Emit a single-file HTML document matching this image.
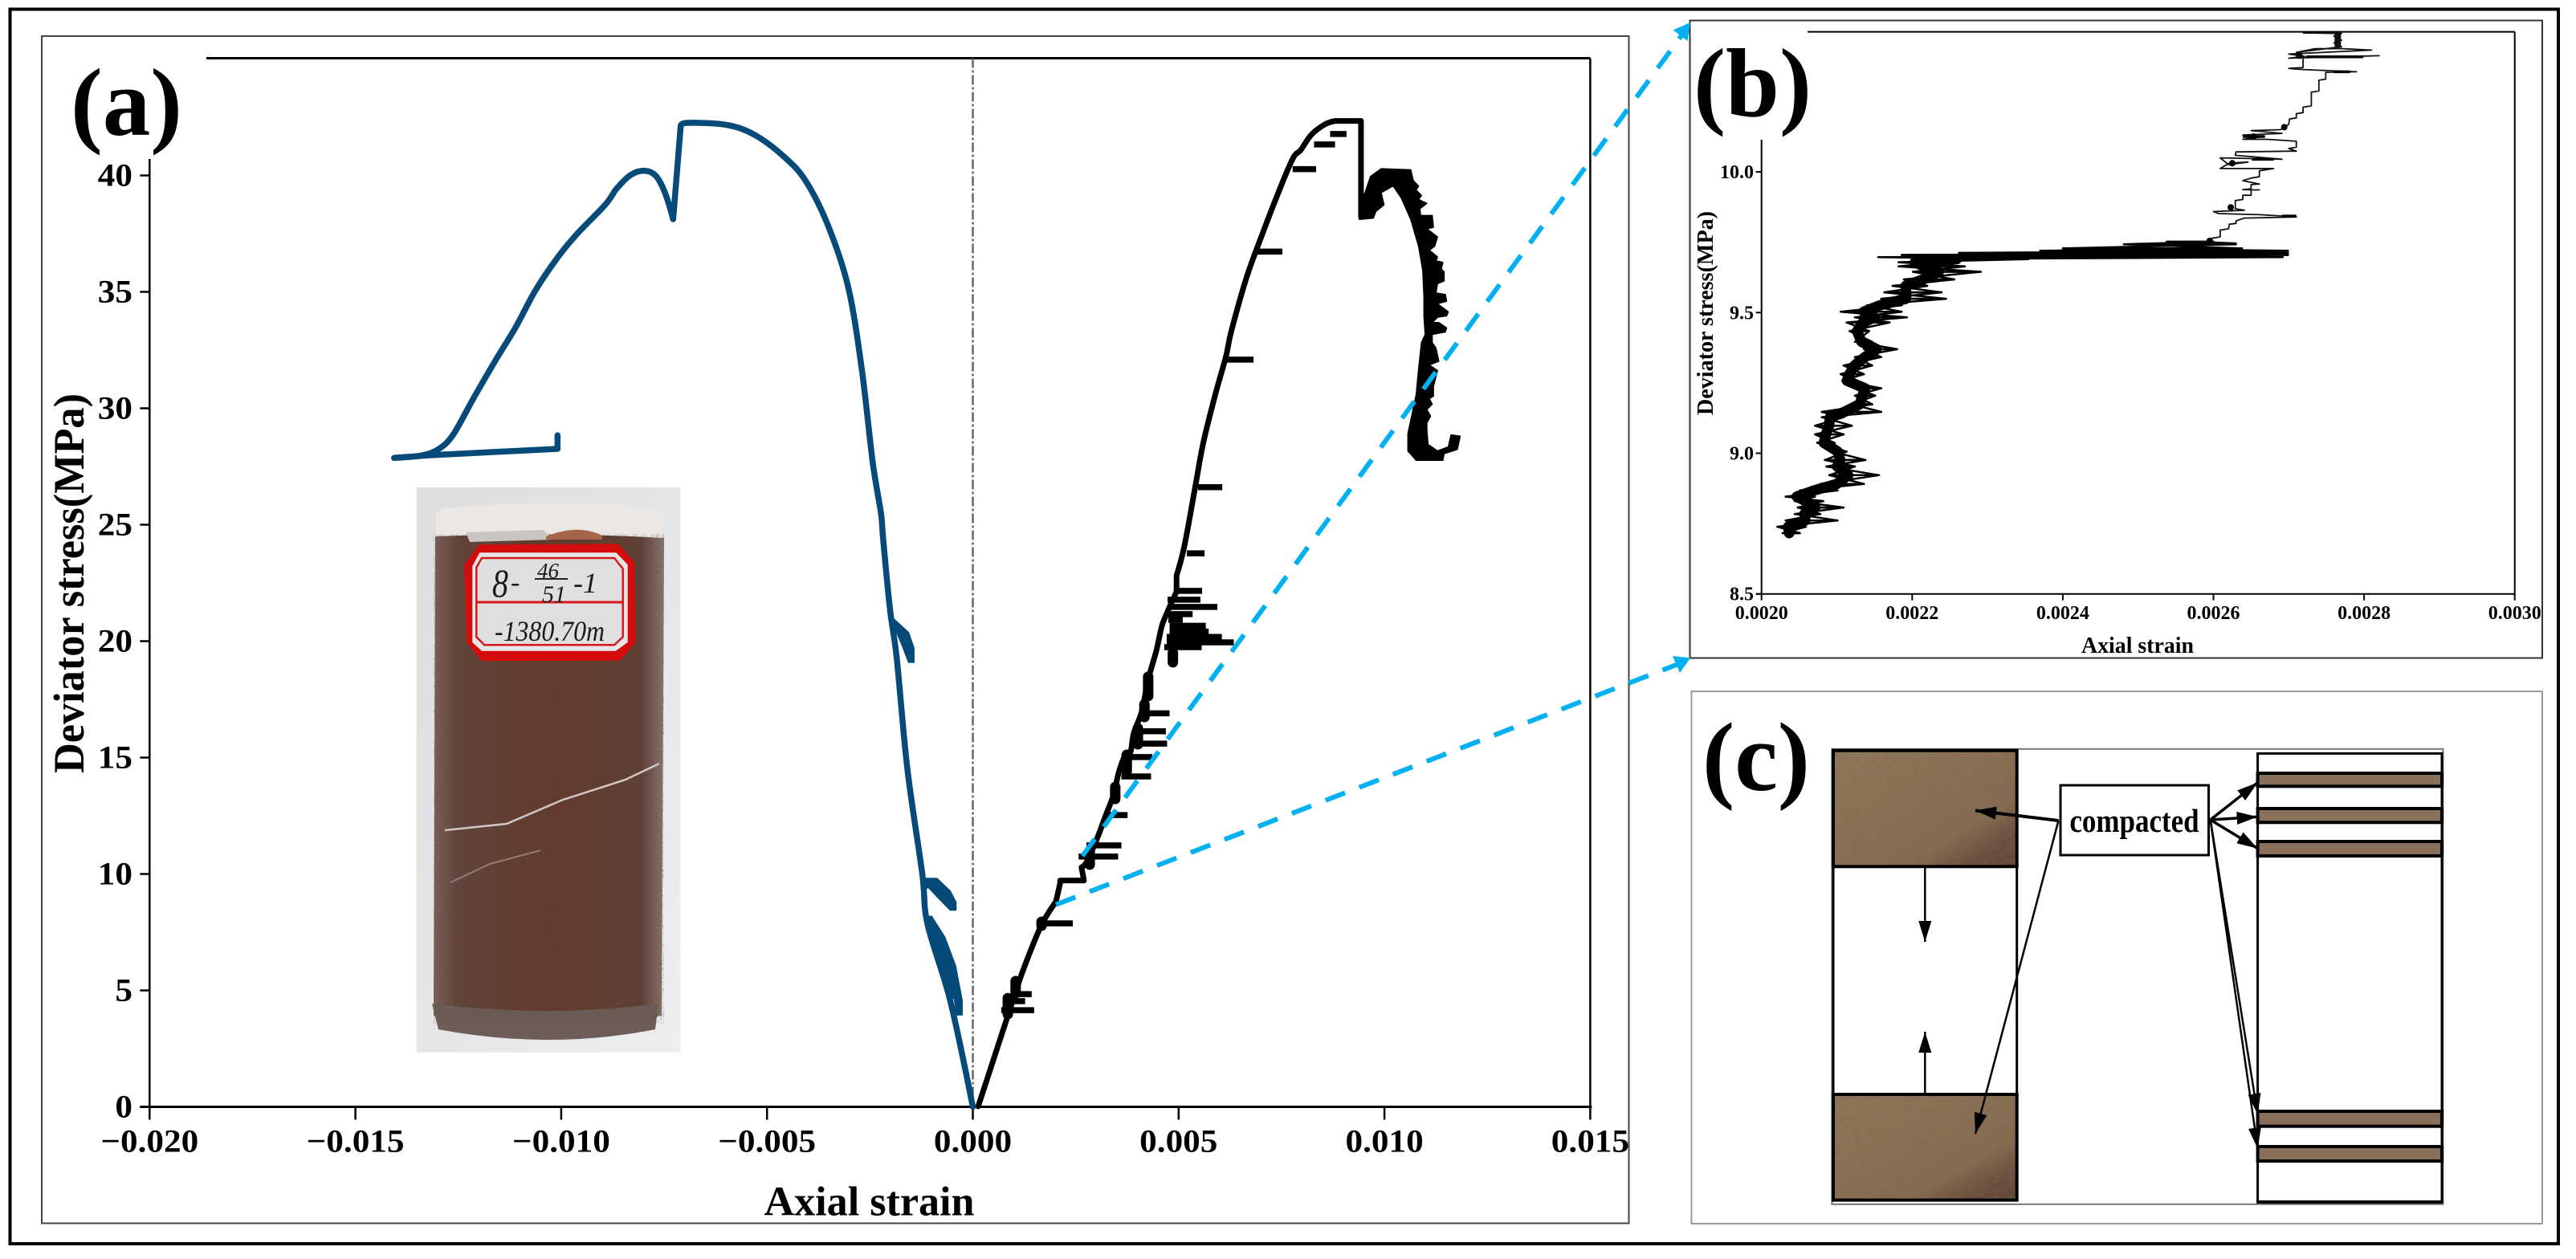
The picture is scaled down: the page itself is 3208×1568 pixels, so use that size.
<!DOCTYPE html>
<html lang="en">
<head>
<meta charset="utf-8">
<title>Deviator stress vs axial strain</title>
<style>
html,body{margin:0;padding:0;background:#fff;width:3208px;height:1568px;overflow:hidden}
svg{display:block}
text{font-family:"Liberation Serif","Noto Serif CJK SC",serif;font-weight:bold;fill:#000}
.hand{font-weight:normal;font-style:italic;fill:#1a1a1a}
</style>
</head>
<body>
<svg id="fig" xmlns="http://www.w3.org/2000/svg" width="3208" height="1568" viewBox="0 0 3208 1568">
  <defs>
    <linearGradient id="rockGrad" x1="0" y1="0" x2="1" y2="1">
      <stop offset="0" stop-color="#917759"/>
      <stop offset="0.7" stop-color="#866b50"/>
      <stop offset="0.85" stop-color="#6b5040"/>
      <stop offset="1" stop-color="#5f4536"/>
    </linearGradient>
    <linearGradient id="photoBg" x1="0" y1="0" x2="1" y2="1">
      <stop offset="0" stop-color="#dcdddf"/>
      <stop offset="1" stop-color="#eceeef"/>
    </linearGradient>
    <linearGradient id="sandGrad" x1="0" y1="0" x2="1" y2="0">
      <stop offset="0" stop-color="#7c625a"/>
      <stop offset="0.1" stop-color="#63433a"/>
      <stop offset="0.5" stop-color="#633a2c"/>
      <stop offset="0.9" stop-color="#5f3f35"/>
      <stop offset="1" stop-color="#8a7770"/>
    </linearGradient>
    <filter id="grain" x="0" y="0" width="100%" height="100%">
      <feTurbulence type="fractalNoise" baseFrequency="0.35" numOctaves="2" seed="4"/>
      <feColorMatrix type="matrix" values="0 0 0 0 0.1  0 0 0 0 0.07  0 0 0 0 0.05  1.6 0 0 0 -0.65"/>
    </filter>
    <filter id="rockGrain" x="0" y="0" width="100%" height="100%">
      <feTurbulence type="fractalNoise" baseFrequency="0.12 0.2" numOctaves="3" seed="9"/>
      <feColorMatrix type="matrix" values="0 0 0 0 0.2  0 0 0 0 0.14  0 0 0 0 0.09  2.2 0 0 0 -0.95"/>
    </filter>
    <marker id="headS" markerUnits="userSpaceOnUse" markerWidth="30" markerHeight="24" refX="26" refY="10" orient="auto">
      <path d="M0,2 L26,10 L0,18 Z" fill="#000"/>
    </marker>
  </defs>

  <rect x="0" y="0" width="3208" height="1568" fill="#fff"/>
  <rect x="12.5" y="11.5" width="3173.5" height="1537.5" fill="none" stroke="#000" stroke-width="4"/>
  <rect x="52" y="45" width="1976.5" height="1478.5" fill="#fff" stroke="#444" stroke-width="2"/>
  <rect x="2104.5" y="25.5" width="1061.5" height="794" fill="#fff" stroke="#333" stroke-width="2"/>
  <rect x="2106.5" y="861" width="1059.5" height="663" fill="#fff" stroke="#999" stroke-width="2"/>

  <!-- specimen photo -->
  <g id="specimen-photo">
    <rect x="518.7" y="607" width="328.7" height="703.6" fill="url(#photoBg)"/>
    <path d="M543,643 Q543,634 560,632 Q684,622 810,632 Q825,636 826,643 L826,680 L543,680 Z" fill="#ebe7e5"/>
    <path d="M542,668 Q684,662 827,670 L824,1265 Q684,1285 540,1265 Z" fill="url(#sandGrad)"/>
    <path d="M538,1250 Q684,1268 820,1250 L816,1282 Q684,1308 546,1282 Z" fill="#6d5c57"/>
    <path d="M542,668 Q684,662 827,670 L824,1265 Q684,1285 540,1265 Z" filter="url(#grain)" opacity="0.5"/>
    <path d="M580,663 L677,660 L690,672 L585,675 Z" fill="#c9c6c2"/>
    <path d="M680,668 Q720,652 750,667 L750,672 L680,672 Z" fill="#a5654a"/>
    <polyline points="554,1034 631,1026 701,996 779,971 821,951" fill="none" stroke="#cfc8c6" stroke-width="2.5"/>
    <polyline points="561,1099 610,1076 673,1059" fill="none" stroke="#927d76" stroke-width="2"/>
    <polygon points="596.7,678.3 770,677.3 790,700 791.7,800 771.7,822.7 600,823.3 581,800 578.3,703.3" fill="#d40c0c"/>
    <polygon points="597.3,688.3 767.3,688.3 781.7,703.3 781.7,800 766.7,810.7 600,810.7 588.3,800 588.3,705" fill="#e6e6e8"/>
    <polygon points="600,695 765,695 775.7,708.3 775.7,793.3 765,803.3 603.3,803.3 593.3,793.3 593.3,706.7" fill="#dfdfe1" stroke="#d81818" stroke-width="2.5"/>
    <line x1="593.3" y1="750" x2="775.7" y2="750" stroke="#d81818" stroke-width="3"/>
    <text class="hand" x="613" y="743" font-size="50" textLength="20" lengthAdjust="spacingAndGlyphs">8</text>
    <text class="hand" x="636" y="736" font-size="34">-</text>
    <text class="hand" x="669" y="720" font-size="27">46</text>
    <line x1="666" y1="721" x2="707" y2="721" stroke="#222" stroke-width="2"/>
    <text class="hand" x="675" y="750" font-size="30">51</text>
    <text class="hand" x="714" y="738" font-size="36">-1</text>
    <text class="hand" x="616" y="798" font-size="36" textLength="137" lengthAdjust="spacingAndGlyphs">-1380.70m</text>
  </g>

  <g id="chartA"></g>
  <g id="chartB"></g>

  <!-- panel c schematic -->
  <g id="diagram-c">
    <rect x="2281.4" y="932.8" width="761" height="567" fill="#fff" stroke="#777" stroke-width="2"/>
    <rect x="2283" y="934.7" width="228.7" height="560" fill="#fff" stroke="#000" stroke-width="3"/>
    <rect x="2283" y="934.7" width="228.7" height="144.5" fill="url(#rockGrad)" stroke="#000" stroke-width="4"/>
    <rect x="2285" y="937" width="225" height="140" filter="url(#rockGrain)" opacity="0.5"/>
    <rect x="2283" y="1363" width="228.7" height="131.6" fill="url(#rockGrad)" stroke="#000" stroke-width="4"/>
    <rect x="2285" y="1365" width="225" height="128" filter="url(#rockGrain)" opacity="0.5"/>
    <rect x="2811.6" y="938.4" width="229.4" height="559" fill="#fff" stroke="#000" stroke-width="3"/>
    <rect x="2811.6" y="963" width="229.4" height="16.3" fill="#88705a" stroke="#000" stroke-width="4"/>
    <rect x="2811.6" y="1007" width="229.4" height="17.3" fill="#88705a" stroke="#000" stroke-width="4"/>
    <rect x="2811.6" y="1048" width="229.4" height="18" fill="#88705a" stroke="#000" stroke-width="4"/>
    <rect x="2811.6" y="1384" width="229.4" height="18.7" fill="#88705a" stroke="#000" stroke-width="4"/>
    <rect x="2811.6" y="1428" width="229.4" height="18" fill="#88705a" stroke="#000" stroke-width="4"/>
    <rect x="2811.6" y="1495" width="229.4" height="4" fill="#000"/>
    <line x1="2397.3" y1="1081" x2="2397.3" y2="1173" stroke="#000" stroke-width="2.5" marker-end="url(#headS)"/>
    <line x1="2397.3" y1="1362" x2="2397.3" y2="1285" stroke="#000" stroke-width="2.5" marker-end="url(#headS)"/>
    <rect x="2566" y="978" width="184.5" height="87" fill="#fff" stroke="#000" stroke-width="3"/>
    <text font-size="35" text-anchor="middle" transform="translate(2658,1036) scale(1,1.18)">compacted</text>
    <line x1="2563.5" y1="1022" x2="2460" y2="1009.5" stroke="#000" stroke-width="4" marker-end="url(#headS)"/>
    <line x1="2563.5" y1="1022" x2="2460" y2="1412" stroke="#000" stroke-width="2.5" marker-end="url(#headS)"/>
    <line x1="2752.7" y1="1021" x2="2811.6" y2="974.6" stroke="#000" stroke-width="3.5" marker-end="url(#headS)"/>
    <line x1="2752.7" y1="1021" x2="2811.6" y2="1017.3" stroke="#000" stroke-width="3.5" marker-end="url(#headS)"/>
    <line x1="2752.7" y1="1021" x2="2811.6" y2="1056.8" stroke="#000" stroke-width="3.5" marker-end="url(#headS)"/>
    <line x1="2752.7" y1="1021" x2="2811.6" y2="1388" stroke="#000" stroke-width="2.5" marker-end="url(#headS)"/>
    <line x1="2752.7" y1="1021" x2="2811.6" y2="1430.5" stroke="#000" stroke-width="2.5" marker-end="url(#headS)"/>
  </g>

  <!-- zoom connectors -->
  <line x1="1348" y1="1066" x2="2095" y2="43" stroke="#00b0f0" stroke-width="6" stroke-dasharray="26 19"/>
  <polygon points="2083.6,37.5 2105,28 2101.6,51" fill="#00b0f0"/>
  <line x1="1315" y1="1126.7" x2="2090" y2="827" stroke="#00b0f0" stroke-width="6" stroke-dasharray="26 19"/>
  <polygon points="2083,817 2105,819.5 2092,838" fill="#00b0f0"/>

  <text x="88" y="168" font-size="120" textLength="139" lengthAdjust="spacingAndGlyphs">(a)</text>
  <text x="2109" y="144.5" font-size="122" textLength="147" lengthAdjust="spacingAndGlyphs">(b)</text>
  <text x="2120" y="984" font-size="122" textLength="134" lengthAdjust="spacingAndGlyphs">(c)</text>
</svg>

<script>
// ---- Panel (a) data ----
const xTicksA = [-0.020, -0.015, -0.010, -0.005, 0.000, 0.005, 0.010, 0.015];
const xTickLabelsA = ["\u22120.020", "\u22120.015", "\u22120.010", "\u22120.005", "0.000", "0.005", "0.010", "0.015"];
const yTicksA = [0, 5, 10, 15, 20, 25, 30, 35, 40];
const yTickLabelsA = ["0", "5", "10", "15", "20", "25", "30", "35", "40"];

const blueStrain = [0,-0.00055,-0.00110,-0.00123,-0.00159,-0.00185,-0.00201,-0.00218,-0.00223,-0.00243,-0.00270,-0.00303,-0.00352,-0.00407,-0.00461,-0.00530,-0.00598,-0.00694,-0.00710,-0.00728,-0.00748,-0.00770,-0.00797,-0.00831,-0.00865,-0.00893,-0.00961,-0.01009,-0.01063,-0.01111,-0.01160,-0.01214,-0.01262,-0.01296,-0.01337,-0.01406,-0.01324,-0.01009,-0.01009];
const blueStress = [0,4.57,7.84,10.02,14.51,19.29,21.33,24.40,25.47,27.66,31.71,35.22,37.86,39.79,40.84,41.74,42.17,42.26,42.09,38.12,39.26,39.98,40.20,40.02,39.44,38.74,37.50,36.47,35.05,33.47,32.05,30.40,28.88,28.27,27.98,27.87,27.98,28.26,28.84];
const blueCorners = [18,19,35,36,37];

const blueLoop1Strain = [-0.00198,-0.00156,-0.00143,-0.00143,-0.00156,-0.00172,-0.00182];
const blueLoop1Stress = [21.05,20.37,19.69,19.09,19.09,19.83,20.24];
const blueLoop2Strain = [-0.00126,-0.00087,-0.00055,-0.00041,-0.00041,-0.00055,-0.00081,-0.00107,-0.00114];
const blueLoop2Stress = [9.81,9.81,9.27,8.79,8.45,8.45,8.92,9.40,9.40];
const blueLoop3Strain = [-0.00114,-0.00114,-0.00100,-0.00068,-0.00042,-0.00026,-0.00026,-0.00039,-0.00045,-0.00052,-0.00055,-0.00084,-0.00104];
const blueLoop3Stress = [7.77,8.18,8.18,7.29,6.06,4.57,3.95,3.95,4.64,4.71,4.43,6.33,7.77];

const blackStrain = [0.00013,0.00087,0.00121,0.00166,0.00202,0.00212,0.00212,0.00270,0.00264,0.00277,0.00303,0.00322,0.00342,0.00354,0.00368,0.00383,0.00391,0.00410,0.00426,0.00446,0.00459,0.00472,0.00495,0.00495,0.00514,0.00541,0.00560,0.00591,0.00615,0.00628,0.00665,0.00703,0.00740,0.00777,0.00797,0.00822,0.00855,0.00881,0.00943,0.00943];
const blackStress = [0.02,4.02,5.81,7.78,8.81,9.60,9.72,9.72,10.29,10.53,11.57,12.48,13.40,14.33,15.02,15.23,16.05,16.96,18.34,19.60,20.64,21.22,22.13,22.82,24.09,26.69,28.53,30.71,32.22,33.31,35.62,37.47,39.16,40.71,41.10,41.74,42.19,42.34,42.34,38.22];
const blackCorners = [4,5,6,7,8,22,23,37,38];

const loopEnvelopeStrain = [0.00939,0.00939,0.00953,0.00966,0.00992,0.01064,0.01070,0.01083,0.01077,0.01090,0.01083,0.01103,0.01086,0.01088,0.01116,0.01119,0.01103,0.01129,0.01122,0.01109,0.01129,0.01125,0.01142,0.01138,0.01145,0.01145,0.01129,0.01125,0.01148,0.01151,0.01129,0.01155,0.01151,0.01129,0.01116,0.01132,0.01151,0.01148,0.01116,0.01116,0.01125,0.01132,0.01109,0.01129,0.01119,0.01119,0.01109,0.01116,0.01103,0.01112,0.01103,0.01103,0.01106,0.01129,0.01155,0.01162,0.01184,0.01177,0.01145,0.01142,0.01077,0.01057,0.01057,0.01077,0.01083,0.01090,0.01099,0.01096,0.01096,0.01093,0.01083,0.01064,0.01041,0.01021,0.00992,0.00999,0.00979,0.00973];
const loopEnvelopeStress = [38.11,38.91,39.26,39.95,40.29,40.24,39.78,39.55,39.37,39.14,38.97,38.80,38.57,38.28,38.28,37.77,37.71,37.36,36.96,36.79,36.50,36.33,36.27,35.98,35.87,35.47,35.35,34.95,34.89,34.60,34.49,34.14,33.97,33.91,33.68,33.68,33.45,33.28,33.17,32.82,32.59,32.02,31.86,31.62,30.93,30.52,30.41,30.18,29.95,29.66,29.37,29.09,28.45,28.17,28.34,28.86,28.80,28.23,28.05,27.77,27.77,28.17,28.91,30.58,31.67,32.82,33.17,33.97,34.78,35.93,36.96,38.11,39.03,39.55,39.26,38.74,38.45,38.17];

const spikeStress = [41.78,41.33,40.27,36.73,32.09,26.61,23.77,22.16,21.78,21.47,21.16,20.92,20.66,20.41,20.18,19.95,19.74,16.90,16.13,15.60,15.02,14.19,12.53,11.23,10.75,7.88,4.84,4.54,4.15];
const spikeStart = [0.00868,0.00829,0.00777,0.00691,0.00615,0.00547,0.00520,0.00495,0.00473,0.00473,0.00473,0.00475,0.00478,0.00478,0.00471,0.00471,0.00465,0.00410,0.00395,0.00385,0.00361,0.00361,0.00319,0.00276,0.00257,0.00155,0.00106,0.00081,0.00069];
const spikeEnd = [0.00908,0.00880,0.00834,0.00752,0.00682,0.00606,0.00563,0.00557,0.00553,0.00594,0.00534,0.00510,0.00566,0.00573,0.00605,0.00634,0.00556,0.00478,0.00469,0.00472,0.00436,0.00433,0.00376,0.00361,0.00353,0.00243,0.00143,0.00127,0.00149];

const blobStrain = [0.00426,0.00417,0.00401,0.00374,0.00346,0.00284,0.00167,0.00104,0.00085,0.00486];
const blobStressHigh = [18.47,17.29,16.26,15.12,13.74,10.98,7.95,5.40,4.67,19.50];
const blobStressLow = [17.64,16.74,15.57,14.43,13.22,10.40,7.78,4.88,3.98,19.09];

// ---- Panel (b) data ----
const xTicksB = [0.0020, 0.0022, 0.0024, 0.0026, 0.0028, 0.0030];
const xTickLabelsB = ["0.0020", "0.0022", "0.0024", "0.0026", "0.0028", "0.0030"];
const yTicksB = [8.5, 9.0, 9.5, 10.0];
const yTickLabelsB = ["8.5", "9.0", "9.5", "10.0"];

const bRowStress = [8.716,8.739,8.761,8.784,8.807,8.830,8.846,8.868,8.891,8.922,8.953,8.976,9.006,9.037,9.067,9.098,9.128,9.147,9.174,9.205,9.231,9.258,9.281,9.312,9.342,9.370,9.396,9.434,9.465,9.483,9.503,9.526,9.549,9.572,9.595,9.618,9.645,9.664,9.679,9.690,9.697,9.705,9.712,9.720,9.728,9.743,9.752];
const bRowLeft = [0.002028,0.002021,0.002032,0.002044,0.002048,0.002044,0.002032,0.002051,0.002078,0.002090,0.002086,0.002084,0.002094,0.002074,0.002071,0.002071,0.002080,0.002080,0.002120,0.002124,0.002124,0.002107,0.002105,0.002109,0.002124,0.002136,0.002124,0.002117,0.002113,0.002124,0.002105,0.002140,0.002159,0.002163,0.002174,0.002189,0.002201,0.002182,0.002182,0.002201,0.002155,0.002186,0.002262,0.002370,0.002400,0.002481,0.002538];
const bRowRight = [0.002051,0.002059,0.002101,0.002078,0.002109,0.002082,0.002071,0.002101,0.002136,0.002156,0.002124,0.002138,0.002113,0.002097,0.002109,0.002120,0.002109,0.002159,0.002147,0.002151,0.002159,0.002124,0.002136,0.002147,0.002159,0.002180,0.002147,0.002143,0.002170,0.002193,0.002186,0.002186,0.002245,0.002239,0.002220,0.002256,0.002291,0.002270,0.002239,0.002354,0.002692,0.002699,0.002699,0.002699,0.002638,0.002630,0.002600];
const bCoreCount = 40;

const bUpperStrain = [0.002579,0.002630,0.002597,0.002598,0.002609,0.002609,0.002620,0.002621,0.002630,0.002630,0.002641,0.002710,0.002662,0.002607,0.002600,0.002641,0.002629,0.002629,0.002639,0.002639,0.002650,0.002650,0.002661,0.002639,0.002650,0.002650,0.002661,0.002639,0.002650,0.002661,0.002661,0.002680,0.002609,0.002621,0.002646,0.002620,0.002609,0.002691,0.002629,0.002630,0.002710,0.002700,0.002710,0.002710,0.002671,0.002639,0.002668,0.002639,0.002691,0.002650,0.002689,0.002700,0.002701,0.002710,0.002710,0.002719,0.002719,0.002730,0.002730,0.002740,0.002740,0.002749,0.002749,0.002790,0.002719,0.002700,0.002719,0.002719,0.002820,0.002700,0.002721,0.002700,0.002810,0.002771,0.002735,0.002710,0.002770,0.002760,0.002770,0.002760,0.002770,0.002719];
const bUpperStress = [9.753,9.747,9.747,9.764,9.769,9.793,9.798,9.814,9.817,9.826,9.836,9.840,9.848,9.852,9.859,9.864,9.869,9.898,9.902,9.917,9.917,9.936,9.936,9.937,9.940,9.955,9.957,9.969,9.978,9.983,10.004,10.012,10.012,10.031,10.035,10.026,10.050,10.045,10.059,10.071,10.074,10.083,10.088,10.109,10.116,10.116,10.126,10.131,10.137,10.147,10.150,10.169,10.188,10.192,10.207,10.211,10.230,10.235,10.283,10.288,10.326,10.330,10.354,10.356,10.364,10.368,10.371,10.407,10.413,10.404,10.411,10.419,10.433,10.438,10.438,10.425,10.445,10.459,10.468,10.483,10.492,10.494];
const bBlobStrain = [0.002765,0.002765];
const bBlobStress = [10.45,10.49];
const bKnotStrain = [0.002714,0.002694,0.002653,0.002625,0.002623,0.002595];
const bKnotStress = [10.413,10.159,10.126,10.031,9.874,9.755];
const bBarStress = [10.409,10.045,10.126,9.843,10.356];
const bBarStart = [0.002723,0.002651,0.002639,0.002691,0.002760];
const bBarEnd = [0.002799,0.002680,0.002668,0.002710,0.002781];

// ---- axis functions ----
function xA(v) { return 1211.5 + v * 51260; }
function yA(v) { return 1378.5 - v * 29; }
function xB(v) { return 2193.7 + (v - 0.002) * 938000; }
function yB(v) { return 739.7 - (v - 8.5) * 350.4; }

const NS = "http://www.w3.org/2000/svg";
const gA = document.getElementById("chartA");
const gB = document.getElementById("chartB");

function mk(tag, parent) {
  const e = document.createElementNS(NS, tag);
  parent.appendChild(e);
  return e;
}
function pathD(xs, ys, fx, fy) {
  let d = "";
  for (let i = 0; i < xs.length; i++) {
    d += (i ? "L" : "M") + fx(xs[i]).toFixed(1) + "," + fy(ys[i]).toFixed(1);
  }
  return d;
}
function smoothD(xs, ys, fx, fy, corners) {
  const px = xs.map(fx);
  const py = ys.map(fy);
  const n = px.length;
  const isCorner = function (i) { return i === 0 || i === n - 1 || corners.indexOf(i) >= 0; };
  const tx = function (i) { return isCorner(i) ? 0 : (px[i + 1] - px[i - 1]) / 6; };
  const ty = function (i) { return isCorner(i) ? 0 : (py[i + 1] - py[i - 1]) / 6; };
  let d = "M" + px[0].toFixed(1) + "," + py[0].toFixed(1);
  for (let i = 0; i < n - 1; i++) {
    d += "C" + (px[i] + tx(i)).toFixed(1) + "," + (py[i] + ty(i)).toFixed(1) + " " +
         (px[i + 1] - tx(i + 1)).toFixed(1) + "," + (py[i + 1] - ty(i + 1)).toFixed(1) + " " +
         px[i + 1].toFixed(1) + "," + py[i + 1].toFixed(1);
  }
  return d;
}
function stylePath(e, d, color, w) {
  e.setAttribute("d", d);
  e.setAttribute("fill", "none");
  e.setAttribute("stroke", color);
  e.setAttribute("stroke-width", w);
  e.setAttribute("stroke-linejoin", "round");
  e.setAttribute("stroke-linecap", "round");
}
function styleArea(e, d, color) {
  e.setAttribute("d", d + "Z");
  e.setAttribute("fill", color);
  e.setAttribute("stroke", color);
  e.setAttribute("stroke-width", 1.5);
  e.setAttribute("stroke-linejoin", "round");
}
function styleLine(e, x1, y1, x2, y2, w, color) {
  e.setAttribute("x1", x1);
  e.setAttribute("y1", y1);
  e.setAttribute("x2", x2);
  e.setAttribute("y2", y2);
  e.setAttribute("stroke", color || "#000");
  e.setAttribute("stroke-width", w);
}
function styleText(e, x, y, size, anchor, str) {
  e.setAttribute("x", x);
  e.setAttribute("y", y);
  e.setAttribute("font-size", size);
  e.setAttribute("text-anchor", anchor);
  e.textContent = str;
}
function fitWidth(e, w) {
  e.setAttribute("textLength", w);
  e.setAttribute("lengthAdjust", "spacingAndGlyphs");
}

// ---- Panel (a) axes ----
const aTop = mk("line", gA);


styleLine(aTop, 257, 72.5, xA(0.015), 72.5, 3);

const aRight = mk("line", gA);


styleLine(aRight, xA(0.015), 72.5, xA(0.015), yA(0), 2.5);

const aZero = mk("line", gA);


styleLine(aZero, xA(0), 72.5, xA(0), yA(0), 2.5, "#666");
aZero.setAttribute("stroke-dasharray", "12 3 3 3");

const aYAxis = mk("line", gA);


styleLine(aYAxis, xA(-0.02), 198, xA(-0.02), yA(0), 2.5);

const aXAxis = mk("line", gA);


styleLine(aXAxis, xA(-0.02) - 12, yA(0), xA(0.015) + 2, yA(0), 3);

for (let i = 0; i < xTicksA.length; i++) {
  const t = mk("line", gA);
  
  
  styleLine(t, xA(xTicksA[i]), yA(0), xA(xTicksA[i]), yA(0) + 16, 2.5);
  const l = mk("text", gA);
  
  
  styleText(l, xA(xTicksA[i]), 1434.5, 40, "middle", xTickLabelsA[i]);
  fitWidth(l, l.getComputedTextLength() * 1.08);
}
for (let i = 0; i < yTicksA.length; i++) {
  const t = mk("line", gA);
  
  
  styleLine(t, xA(-0.02) - 12, yA(yTicksA[i]), xA(-0.02), yA(yTicksA[i]), 2.5);
  const l = mk("text", gA);
  
  
  styleText(l, 165, yA(yTicksA[i]) + 13, 40, "end", yTickLabelsA[i]);
  fitWidth(l, l.getComputedTextLength() * 1.08);
}

const aXT = mk("text", gA);


styleText(aXT, 1082.5, 1513.5, 52, "middle", "Axial strain");
fitWidth(aXT, 262);

const aYT = mk("text", gA);


styleText(aYT, 0, 0, 54, "middle", "Deviator stress(MPa)");
aYT.setAttribute("transform", "translate(104,726.5) rotate(-90)");
fitWidth(aYT, 473);

// ---- Panel (a) series ----
const blueColor = "#054a78";
const blueMain = mk("path", gA);


stylePath(blueMain, smoothD(blueStrain, blueStress, xA, yA, blueCorners), blueColor, 7.5);

const blueL1 = mk("path", gA);


styleArea(blueL1, pathD(blueLoop1Strain, blueLoop1Stress, xA, yA), blueColor);

const blueL2 = mk("path", gA);


styleArea(blueL2, pathD(blueLoop2Strain, blueLoop2Stress, xA, yA), blueColor);

const blueL3 = mk("path", gA);


styleArea(blueL3, pathD(blueLoop3Strain, blueLoop3Stress, xA, yA), blueColor);

const blackMain = mk("path", gA);


stylePath(blackMain, smoothD(blackStrain, blackStress, xA, yA, blackCorners), "#000", 7);

const blackLoop = mk("path", gA);


styleArea(blackLoop, pathD(loopEnvelopeStrain, loopEnvelopeStress, xA, yA), "#000");

for (let i = 0; i < spikeStress.length; i++) {
  const s = mk("line", gA);
  
  
  styleLine(s, xA(spikeStart[i]), yA(spikeStress[i]), xA(spikeEnd[i]), yA(spikeStress[i]), 7.5);
}
for (let i = 0; i < blobStrain.length; i++) {
  const s = mk("line", gA);
  
  
  styleLine(s, xA(blobStrain[i]), yA(blobStressHigh[i]), xA(blobStrain[i]), yA(blobStressLow[i]), 13);
  s.setAttribute("stroke-linecap", "round");
}

// ---- Panel (b) axes ----
const bTop = mk("line", gB);


styleLine(bTop, 2251, 39.6, xB(0.003), 39.6, 2);

const bRight = mk("line", gB);


styleLine(bRight, xB(0.003), 39.6, xB(0.003), yB(8.5), 2);

const bYAxis = mk("line", gB);


styleLine(bYAxis, xB(0.002), 174, xB(0.002), yB(8.5), 2);

const bXAxis = mk("line", gB);


styleLine(bXAxis, xB(0.002) - 7, yB(8.5), xB(0.003) + 1, yB(8.5), 2);

for (let i = 0; i < xTicksB.length; i++) {
  const t = mk("line", gB);
  
  
  styleLine(t, xB(xTicksB[i]), yB(8.5), xB(xTicksB[i]), yB(8.5) + 8, 2);
  const l = mk("text", gB);
  
  
  styleText(l, xB(xTicksB[i]), 771, 24, "middle", xTickLabelsB[i]);
}
for (let i = 0; i < yTicksB.length; i++) {
  const t = mk("line", gB);
  
  
  styleLine(t, xB(0.002) - 7, yB(yTicksB[i]), xB(0.002), yB(yTicksB[i]), 2);
  const l = mk("text", gB);
  
  
  styleText(l, 2184, yB(yTicksB[i]) + 8, 24, "end", yTickLabelsB[i]);
}

const bXT = mk("text", gB);


styleText(bXT, 2662, 813, 28, "middle", "Axial strain");
fitWidth(bXT, 140);

const bYT = mk("text", gB);


styleText(bYT, 0, 0, 29, "middle", "Deviator stress(MPa)");
bYT.setAttribute("transform", "translate(2133,390) rotate(-90)");
fitWidth(bYT, 254);

// ---- Panel (b) series ----
let zig = "";
let zag = "";
for (let i = 0; i < bRowStress.length; i++) {
  const y = yB(bRowStress[i]).toFixed(1);
  const l = xB(bRowLeft[i]).toFixed(1);
  const r = xB(bRowRight[i]).toFixed(1);
  zig += (i ? "L" : "M") + l + "," + y + "L" + r + "," + y;
  zag += (i ? "L" : "M") + r + "," + y + "L" + l + "," + y;
}
let coreX = [];
let coreY = [];
for (let i = 0; i < bCoreCount; i++) {
  coreX.push(bRowLeft[i] * 0.62 + bRowRight[i] * 0.38);
  coreY.push(bRowStress[i]);
}
const bCore = mk("path", gB);


stylePath(bCore, pathD(coreX, coreY, xB, yB), "#000", 13);

const bZig = mk("path", gB);


stylePath(bZig, zig, "#000", 2.5);

const bZag = mk("path", gB);


stylePath(bZag, zag, "#000", 2.5);

const bUp = mk("path", gB);


stylePath(bUp, pathD(bUpperStrain, bUpperStress, xB, yB), "#111", 1.8);

const bBlob = mk("path", gB);


stylePath(bBlob, pathD(bBlobStrain, bBlobStress, xB, yB), "#111", 8);

for (let i = 0; i < bKnotStrain.length; i++) {
  const k = mk("circle", gB);
  
  
  k.setAttribute("cx", xB(bKnotStrain[i]));
  k.setAttribute("cy", yB(bKnotStress[i]));
  k.setAttribute("r", 4);
  k.setAttribute("fill", "#000");
}
for (let i = 0; i < bBarStress.length; i++) {
  const b = mk("line", gB);
  
  
  styleLine(b, xB(bBarStart[i]), yB(bBarStress[i]), xB(bBarEnd[i]), yB(bBarStress[i]), 3.5);
}
</script>
</body>
</html>
